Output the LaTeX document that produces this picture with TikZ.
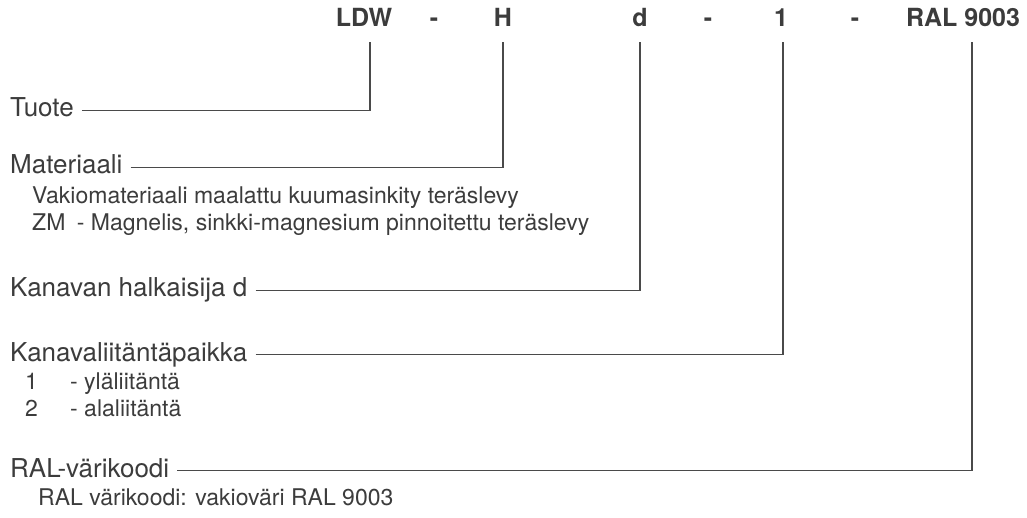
\documentclass[tikz,border=0pt]{standalone}
\usepackage{fontspec}
\setmainfont{TeX Gyre Heros}
\usetikzlibrary{positioning}
\definecolor{txtgray}{HTML}{3C3C3C}
\definecolor{linegray}{HTML}{4A4A4A}

\begin{document}
\begin{tikzpicture}[x=1pt,y=-1pt,
	hdr/.style={anchor=base,inner sep=0pt,text=txtgray,font=\fontsize{25}{30}\selectfont\bfseries},
	lbl/.style={anchor=base west,inner sep=0pt,text=txtgray,font=\fontsize{26}{30}\selectfont},
	sub/.style={anchor=base west,inner sep=0pt,text=txtgray,font=\fontsize{23}{27}\selectfont},
	conn/.style={draw=linegray,line width=1.4pt}]
		\useasboundingbox (0,0) rectangle (1027,518);
		% type code
		\node[hdr] (hLDW) at (364,27) {LDW};
		\node[hdr] (hd1) at (434,27) {-};
		\node[hdr] (hH) at (503,27) {H};
		\node[hdr] (hd) at (640,27) {d};
		\node[hdr] (hd2) at (708,27) {-};
		\node[hdr] (h1) at (781,27) {1};
		\node[hdr] (hd3) at (855,27) {-};
		\node[hdr] (hRAL) at (963,27) {RAL 9003};
		% upper ends of the connectors
		\coordinate (tLDW) at (370,42);
		\coordinate (tH) at (503,42);
		\coordinate (td) at (640,42);
		\coordinate (t1) at (783,42);
		\coordinate (tRAL) at (972,42);
		% labels
		\node[lbl] (tuote) at (10,117) {Tuote};
		\node[lbl] (mat) at (10,174) {Materiaali};
		\node[sub] (vakio) at (32,204) {Vakiomateriaali maalattu kuumasinkity teräslevy};
		\node[sub] (zm) at (32,231) {ZM\enspace- Magnelis, sinkki-magnesium pinnoitettu teräslevy};
		\node[lbl] (halk) at (10,297) {Kanavan halkaisija d};
		\node[lbl] (paikka) at (10,361) {Kanavaliitäntäpaikka};
		\node[sub] (n1) at (25,389) {1};
		\node[sub] (ylä) at (70,389) {- yläliitäntä};
		\node[sub] (n2) at (25,416) {2};
		\node[sub] (ala) at (70,416) {- alaliitäntä};
		\node[lbl] (ral) at (10,477) {RAL-värikoodi};
		\node[sub] (ralsub) at (38,505) {RAL värikoodi: vakioväri RAL 9003};
		% connectors
		\foreach \l/\t in {tuote/tLDW,mat/tH,halk/td,paikka/t1,ral/tRAL}
		\draw[conn] (\l.base east) ++(8,-6.5) -| (\t);
\end{tikzpicture}
\end{document}
